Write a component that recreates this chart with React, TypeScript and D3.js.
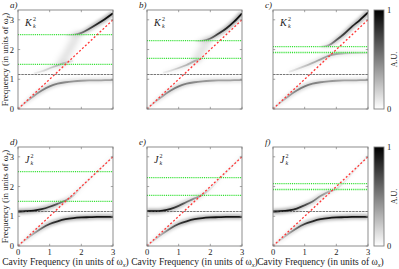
import React, { useRef, useEffect } from 'react';
import * as d3 from 'd3';

// shared cavity-frequency grid (units of w_x)
const cavity = [0, 0.25, 0.5, 0.75, 1, 1.25, 1.5, 1.75, 2, 2.25, 2.5, 2.75, 3];
const axisTicks = [0, 1, 2, 3];
const panelNames = ['a)', 'b)', 'c)', 'd)', 'e)', 'f)'];
const greenLevels = [
  [2.5, 1.5],
  [2.3, 1.7],
  [2.1, 1.9],
  [2.5, 1.5],
  [2.3, 1.7],
  [2.1, 1.9]
];
const matterLevel = 1.16;

// top row (K) : lower polariton, same in a, b, c
const lowerK = [0, 0.23, 0.44, 0.62, 0.76, 0.85, 0.9, 0.93, 0.95, 0.96, 0.96, 0.97, 0.97];
const lowerKInt = [0.05, 0.15, 0.3, 0.42, 0.45, 0.42, 0.38, 0.35, 0.32, 0.3, 0.3, 0.3, 0.3];

// top row middle branches
const middleA = [null, null, 1.2, 1.27, 1.37, 1.47, 1.56, 1.62, null, null, null, null, null];
const middleAInt = [0, 0, 0.05, 0.1, 0.16, 0.2, 0.16, 0.04, 0, 0, 0, 0, 0];
const middleB = [null, null, 1.22, 1.29, 1.38, 1.48, 1.61, 1.7, null, null, null, null, null];
const middleBInt = [0, 0, 0.05, 0.1, 0.18, 0.24, 0.24, 0.06, 0, 0, 0, 0, 0];
const middleC = [null, null, 1.25, 1.34, 1.44, 1.55, 1.67, 1.79, 1.85, 1.87, 1.88, 1.88, 1.89];
const middleCInt = [0, 0, 0.06, 0.12, 0.18, 0.25, 0.3, 0.32, 0.28, 0.2, 0.14, 0.1, 0.08];

// top row upper branches
const upperA = [null, null, null, null, null, null, 2.48, 2.5, 2.56, 2.7, 2.86, 3.03, 3.22];
const upperAInt = [0, 0, 0, 0, 0, 0, 0.02, 0.15, 0.45, 0.65, 0.8, 0.9, 0.95];
const upperB = [null, null, null, null, null, null, 2.28, 2.3, 2.37, 2.53, 2.71, 2.94, 3.22];
const upperBInt = [0, 0, 0, 0, 0, 0, 0.02, 0.2, 0.5, 0.7, 0.8, 0.9, 0.95];
const upperC = [null, null, null, null, null, null, 2.1, 2.14, 2.32, 2.53, 2.78, 3.0, 3.25];
const upperCInt = [0, 0, 0, 0, 0, 0, 0.04, 0.3, 0.55, 0.7, 0.8, 0.9, 0.95];

// diffuse smudge between the green levels (cavity, frequency)
const cloudA = [[1.35, 1.55], [1.55, 1.85], [1.7, 2.15], [1.85, 2.45]];
const cloudB = [[1.55, 1.68], [1.7, 1.9], [1.8, 2.1], [1.9, 2.28]];

// bottom row (J) : lower polariton, same in d, e, f
const lowerJ = [0, 0.22, 0.42, 0.6, 0.74, 0.83, 0.9, 0.94, 0.96, 0.97, 0.98, 0.98, 0.98];
const lowerJInt = [0.04, 0.12, 0.28, 0.5, 0.7, 0.8, 0.85, 0.88, 0.9, 0.9, 0.9, 0.88, 0.85];

// bottom row upper branches
const upperD = [1.16, 1.17, 1.19, 1.24, 1.32, 1.42, 1.53, 1.7, 1.98, 2.24, 2.5, 2.76, 3.02];
const upperDInt = [0.95, 0.95, 0.9, 0.8, 0.7, 0.55, 0.35, 0.15, 0.07, 0.05, 0.05, 0.05, 0.05];
const upperE = [1.17, 1.17, 1.19, 1.25, 1.35, 1.48, 1.6, 1.72, 1.92, 2.2, 2.48, 2.76, 3.04];
const upperEInt = [0.95, 0.95, 0.9, 0.8, 0.65, 0.5, 0.35, 0.2, 0.08, 0.05, 0.05, 0.05, 0.05];
const upperF = [1.16, 1.17, 1.2, 1.26, 1.37, 1.5, 1.68, 1.82, 1.92, 2.15, 2.45, 2.75, 3.05];
const upperFInt = [0.95, 0.95, 0.9, 0.8, 0.65, 0.5, 0.35, 0.25, 0.12, 0.05, 0.05, 0.05, 0.05];

type Branch = { vals: (number | null)[]; ints: number[] };

export default function App(): JSX.Element {
  const svgRef = useRef<SVGSVGElement>(null);
  useEffect(() => {
    const svgEle = svgRef.current;
    if (svgEle == null) {
      return;
    }
    const svg = d3.select(svgEle);
    svg.selectAll('*').remove();

    const colLefts = [18, 147, 273];
    const rowTops = [10, 147];
    const plotW = 95;
    const plotH = 99;
    const yMax = 3.33;
    const font = '"Liberation Serif", "DejaVu Serif", serif';
    const frameColor = '#808080';

    const defs = svg.append('defs');
    const addBlur = (id: string, sd: number) =>
      defs
        .append('filter')
        .attr('id', id)
        .attr('x', '-50%')
        .attr('y', '-50%')
        .attr('width', '200%')
        .attr('height', '200%')
        .append('feGaussianBlur')
        .attr('stdDeviation', sd);
    addBlur('soft', 0.6);
    addBlur('halo', 1.6);
    addBlur('cloud', 3.2);

    // 每个子图的曲线
    const panelBranches: Branch[][] = [
      [{ vals: lowerK, ints: lowerKInt }, { vals: middleA, ints: middleAInt }, { vals: upperA, ints: upperAInt }],
      [{ vals: lowerK, ints: lowerKInt }, { vals: middleB, ints: middleBInt }, { vals: upperB, ints: upperBInt }],
      [{ vals: lowerK, ints: lowerKInt }, { vals: middleC, ints: middleCInt }, { vals: upperC, ints: upperCInt }],
      [{ vals: lowerJ, ints: lowerJInt }, { vals: upperD, ints: upperDInt }],
      [{ vals: lowerJ, ints: lowerJInt }, { vals: upperE, ints: upperEInt }],
      [{ vals: lowerJ, ints: lowerJInt }, { vals: upperF, ints: upperFInt }]
    ];
    const panelClouds = [cloudA, cloudB, null, null, null, null];

    panelNames.forEach((name, i) => {
      const col = i % 3;
      const row = Math.floor(i / 3);
      const left = colLefts[col];
      const top = rowTops[row];
      const x = d3.scaleLinear().domain([0, 3]).range([left, left + plotW]);
      const y = d3.scaleLinear().domain([0, yMax]).range([top + plotH, top]);

      defs
        .append('clipPath')
        .attr('id', `clip${i}`)
        .append('rect')
        .attr('x', left)
        .attr('y', top)
        .attr('width', plotW)
        .attr('height', plotH);

      const g = svg.append('g').attr('clip-path', `url(#clip${i})`);

      // 扩散的灰色区域
      const cloud = panelClouds[i];
      if (cloud) {
        g.append('path')
          .attr('d', d3.line().curve(d3.curveMonotoneX)(cloud.map((d) => [x(d[0]), y(d[1])] as [number, number])))
          .attr('fill', 'none')
          .attr('stroke', '#000')
          .attr('stroke-opacity', 0.13)
          .attr('stroke-width', 7)
          .attr('stroke-linecap', 'round')
          .attr('filter', 'url(#cloud)');
      }

      panelBranches[i].forEach((b, k) => {
        const gradId = `grad${i}_${k}`;
        const grad = defs
          .append('linearGradient')
          .attr('id', gradId)
          .attr('gradientUnits', 'userSpaceOnUse')
          .attr('x1', x(0))
          .attr('x2', x(3))
          .attr('y1', 0)
          .attr('y2', 0);
        cavity.forEach((c, j) => {
          grad
            .append('stop')
            .attr('offset', c / 3)
            .attr('stop-color', '#000')
            .attr('stop-opacity', b.vals[j] == null ? 0 : b.ints[j]);
        });
        const pts = cavity.map((c, j) => [c, b.vals[j]] as [number, number | null]);
        const line = d3
          .line<[number, number | null]>()
          .defined((d) => d[1] != null)
          .x((d) => x(d[0]))
          .y((d) => y(d[1] as number))
          .curve(d3.curveMonotoneX);
        const d = line(pts);
        g.append('path')
          .attr('d', d)
          .attr('fill', 'none')
          .attr('stroke', `url(#${gradId})`)
          .attr('stroke-width', 5)
          .attr('stroke-opacity', 0.35)
          .attr('filter', 'url(#halo)');
        g.append('path')
          .attr('d', d)
          .attr('fill', 'none')
          .attr('stroke', `url(#${gradId})`)
          .attr('stroke-width', 1.8)
          .attr('filter', 'url(#soft)');
      });

      // 物质能级虚线
      g.append('line')
        .attr('x1', left)
        .attr('x2', left + plotW)
        .attr('y1', y(matterLevel))
        .attr('y2', y(matterLevel))
        .attr('stroke', '#4a4a4a')
        .attr('stroke-width', 0.75)
        .attr('stroke-dasharray', '2.5,0.8');

      // 绿色点线
      g.selectAll()
        .data(greenLevels[i])
        .join('line')
        .attr('x1', left)
        .attr('x2', left + plotW)
        .attr('y1', (d) => y(d))
        .attr('y2', (d) => y(d))
        .attr('stroke', '#2fe02f')
        .attr('stroke-width', 1.3)
        .attr('stroke-dasharray', '1,0.9');

      // 红色对角虚线
      g.append('line')
        .attr('x1', x(0))
        .attr('y1', y(0))
        .attr('x2', x(3))
        .attr('y2', y(3))
        .attr('stroke', '#ff3333')
        .attr('stroke-width', 1.3)
        .attr('stroke-dasharray', '2,2');

      // 边框与刻度
      svg
        .append('rect')
        .attr('x', left)
        .attr('y', top)
        .attr('width', plotW)
        .attr('height', plotH)
        .attr('fill', 'none')
        .attr('stroke', frameColor)
        .attr('stroke-width', 0.9);
      const tl = 2.2;
      axisTicks.forEach((t) => {
        svg.append('line').attr('x1', left).attr('x2', left + tl).attr('y1', y(t)).attr('y2', y(t)).attr('stroke', frameColor).attr('stroke-width', 0.7);
        svg.append('line').attr('x1', left + plotW).attr('x2', left + plotW - tl).attr('y1', y(t)).attr('y2', y(t)).attr('stroke', frameColor).attr('stroke-width', 0.7);
        svg.append('line').attr('x1', x(t)).attr('x2', x(t)).attr('y1', top + plotH).attr('y2', top + plotH - tl).attr('stroke', frameColor).attr('stroke-width', 0.7);
        svg.append('line').attr('x1', x(t)).attr('x2', x(t)).attr('y1', top).attr('y2', top + tl).attr('stroke', frameColor).attr('stroke-width', 0.7);
      });

      if (col === 0) {
        svg
          .selectAll()
          .data(axisTicks)
          .join('text')
          .attr('x', left - 4)
          .attr('y', (d) => y(d) + 3)
          .attr('text-anchor', 'end')
          .style('font-family', font)
          .style('font-size', '8.5px')
          .attr('fill', '#222')
          .text((d) => d);
        const yl = svg
          .append('text')
          .attr('transform', `translate(8, ${top + plotH / 2}) rotate(-90)`)
          .attr('text-anchor', 'middle')
          .style('font-family', font)
          .style('font-size', '9px')
          .attr('fill', '#222');
        yl.append('tspan').text('Frequency (in units of ω');
        yl.append('tspan').attr('dy', 1.5).style('font-size', '6.5px').style('font-style', 'italic').text('z');
        yl.append('tspan').attr('dy', -1.5).text(')');
      }
      if (row === 1) {
        svg
          .selectAll()
          .data(axisTicks)
          .join('text')
          .attr('x', (d) => x(d))
          .attr('y', top + plotH + 9)
          .attr('text-anchor', 'middle')
          .style('font-family', font)
          .style('font-size', '8.5px')
          .attr('fill', '#222')
          .text((d) => d);
        const xl = svg
          .append('text')
          .attr('x', left + plotW / 2)
          .attr('y', 265)
          .attr('text-anchor', 'middle')
          .style('font-family', font)
          .style('font-size', '9.5px')
          .attr('fill', '#222');
        xl.append('tspan').text('Cavity Frequency (in units of ω');
        xl.append('tspan').attr('dy', 1.5).style('font-size', '6.5px').style('font-style', 'italic').text('x');
        xl.append('tspan').attr('dy', -1.5).text(')');
      }

      // 子图编号
      svg
        .append('text')
        .attr('x', left - 8)
        .attr('y', top - 2)
        .style('font-family', font)
        .style('font-size', '9px')
        .style('font-style', 'italic')
        .attr('fill', '#222')
        .text(name);

      // K_k^2 / J_k^2
      const lab = svg
        .append('text')
        .attr('x', left + 7)
        .attr('y', top + 16)
        .style('font-family', font)
        .style('font-size', '10px')
        .style('font-style', 'italic')
        .attr('fill', '#222');
      lab.append('tspan').text(row === 0 ? 'K' : 'J');
      const supX = left + 7 + (row === 0 ? 8 : 5.5);
      svg
        .append('text')
        .attr('x', supX)
        .attr('y', top + 11)
        .style('font-family', font)
        .style('font-size', '6px')
        .attr('fill', '#222')
        .text('2');
      svg
        .append('text')
        .attr('x', supX)
        .attr('y', top + 18)
        .style('font-family', font)
        .style('font-size', '6px')
        .style('font-style', 'italic')
        .attr('fill', '#222')
        .text('k');

      // 色条
      if (col === 2) {
        const cbX = 374;
        const cbW = 10;
        const cbGrad = defs
          .append('linearGradient')
          .attr('id', `cb${row}`)
          .attr('x1', 0)
          .attr('x2', 0)
          .attr('y1', 1)
          .attr('y2', 0);
        const cbScale = d3.scaleLinear<string>().domain([0, 1]).range(['#ffffff', '#000000']);
        [0, 0.5, 1].forEach((v) => cbGrad.append('stop').attr('offset', v).attr('stop-color', cbScale(v)));
        svg
          .append('rect')
          .attr('x', cbX)
          .attr('y', top)
          .attr('width', cbW)
          .attr('height', plotH)
          .attr('fill', `url(#cb${row})`)
          .attr('stroke', frameColor)
          .attr('stroke-width', 0.9);
        const cbY = d3.scaleLinear().domain([0, 1]).range([top + plotH, top]);
        svg
          .selectAll()
          .data([0, 1])
          .join('text')
          .attr('x', cbX + cbW + 3)
          .attr('y', (d) => cbY(d) + 3)
          .style('font-family', font)
          .style('font-size', '8.5px')
          .attr('fill', '#222')
          .text((d) => d);
        svg
          .append('text')
          .attr('transform', `translate(396.5, ${top + plotH / 2}) rotate(-90)`)
          .attr('text-anchor', 'middle')
          .style('font-family', font)
          .style('font-size', '8px')
          .attr('fill', '#222')
          .text('A.U.');
      }
    });
  }, []);
  return (
    <svg
      ref={svgRef}
      width={399}
      height={269}
      style={{ position: 'absolute', left: 0, top: 0, background: '#fff' }}
    />
  );
}
